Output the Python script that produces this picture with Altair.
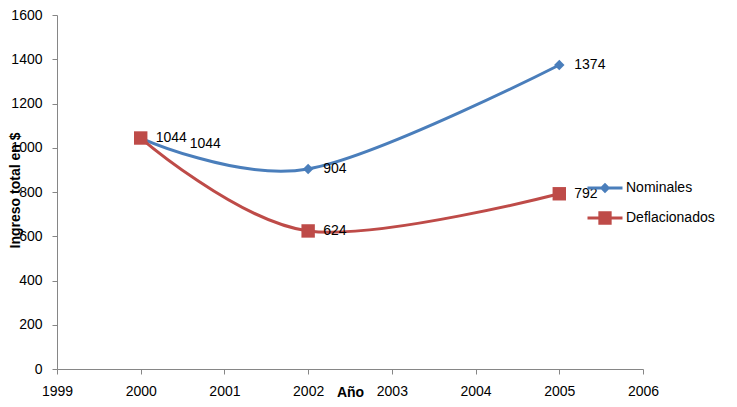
import altair as alt
import pandas as pd

# ---- data ----
anios = [2000, 2002, 2005]
nominales = [1044, 904, 1374]
deflacionados = [1044, 624, 792]
series = ["Nominales", "Deflacionados"]
colores = ["#4A7EBB", "#BE4B48"]
marcadores = ["diamond", "square"]
tam_marcador = [110, 180]
ticks_x = [1999, 2000, 2001, 2002, 2003, 2004, 2005, 2006]
ticks_y = [0, 200, 400, 600, 800, 1000, 1200, 1400, 1600]

rows = []
for s, vals in zip(series, [nominales, deflacionados]):
    for a, v in zip(anios, vals):
        rows.append({"serie": s, "anio": a, "valor": v})
df = pd.DataFrame(rows)

FONT = "Liberation Sans"

# legend symbols: line + marker as custom SVG paths
leg_paths = [
    "M-2.5,-0.21H2.5V0.21H-2.5Z M0,-0.75L0.75,0L0,0.75L-0.75,0Z",
    "M-2.5,-0.21H2.5V0.21H-2.5Z M-0.95,-0.95H0.95V0.95H-0.95Z",
]

x = alt.X(
    "anio:Q",
    scale=alt.Scale(domain=[1999, 2006], nice=False, zero=False),
    axis=alt.Axis(values=ticks_x, format="d", title="Año", titleX=293, titleY=23,
                  titleAlign="center", titleBaseline="middle", titleFontWeight="bold",
                  labelPadding=10, labelFlush=False, labelOverlap=False),
)
y = alt.Y(
    "valor:Q",
    scale=alt.Scale(domain=[0, 1600], nice=False),
    axis=alt.Axis(values=ticks_y, format="d", title="Ingreso total en $", titleX=-42, titleY=175,
                  titleAlign="center", titleBaseline="middle", titleFontWeight="bold",
                  labelPadding=10, labelFlush=False, labelOverlap=False),
)
cscale = alt.Scale(domain=series, range=colores)

base = alt.Chart(df).encode(x=x, y=y)

capas = []
for s, c in zip(series, colores):
    capas.append(
        base.mark_line(interpolate="cardinal", strokeWidth=3, color=c)
        .transform_filter(alt.datum.serie == s)
    )
for s, c, m, t in zip(series, colores, marcadores, tam_marcador):
    capas.append(
        base.mark_point(filled=True, opacity=1, shape=m, size=t, color=c)
        .transform_filter(alt.datum.serie == s)
    )

leg = alt.Legend(title=None, orient="none", legendX=541, legendY=166, padding=0,
                 symbolSize=196, symbolStrokeWidth=0, symbolOpacity=1,
                 labelOffset=14, rowPadding=16, labelFont=FONT, labelFontSize=14,
                 labelColor="black")
capas.append(
    base.mark_point(filled=True, opacity=0).encode(
        color=alt.Color("serie:N", scale=cscale, legend=leg),
        shape=alt.Shape("serie:N", scale=alt.Scale(domain=series, range=leg_paths), legend=leg),
    )
)

capas.append(
    base.mark_text(align="left", baseline="middle", dx=15, fontSize=14,
                   font=FONT, color="black").encode(text="valor:Q").transform_filter(
        ~((alt.datum.serie == series[0]) & (alt.datum.anio == anios[0]))
    )
)
capas.append(
    base.mark_text(align="left", baseline="middle", dx=49, dy=6, fontSize=14,
                   font=FONT, color="black").encode(text="valor:Q").transform_filter(
        (alt.datum.serie == series[0]) & (alt.datum.anio == anios[0])
    )
)

chart = alt.layer(*capas).properties(
    width=586, height=354, autosize="none",
    padding={"left": 49, "top": 7, "right": 86, "bottom": 30},
    background="white",
).configure_view(stroke=None).configure_axis(
    domainColor="#868686", tickColor="#868686", tickSize=5, grid=False,
    labelFont=FONT, labelFontSize=14, labelColor="black",
    titleFont=FONT, titleFontSize=14, titleColor="black",
)

chart.save("out.html", embed_options={"renderer": "svg", "actions": False})
